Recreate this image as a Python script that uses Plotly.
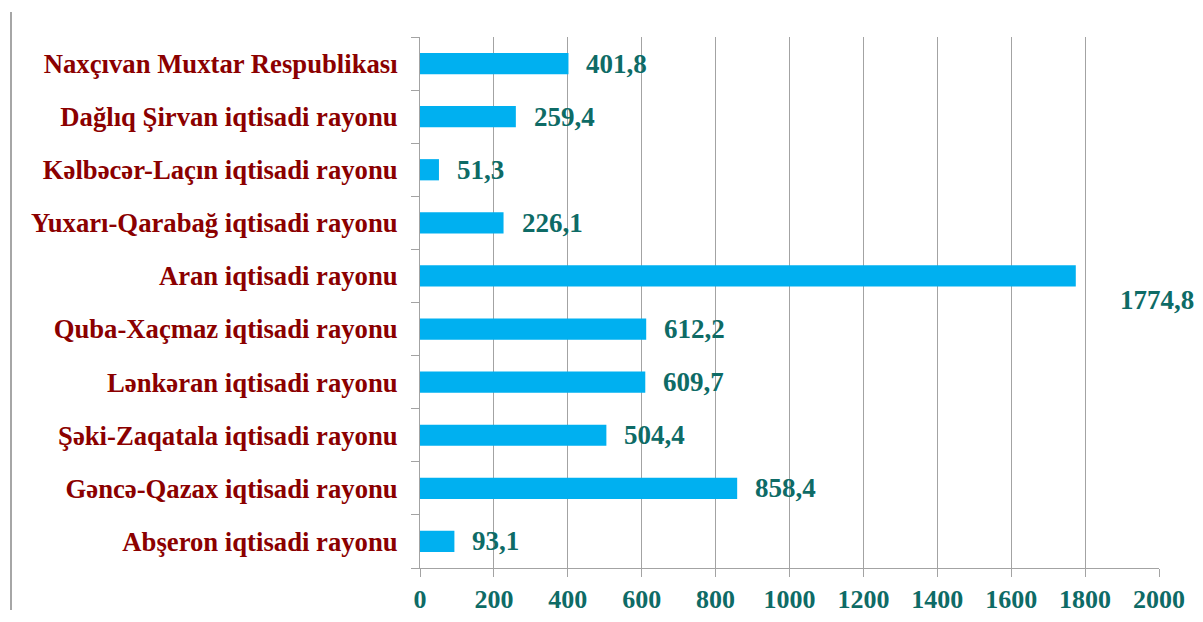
import plotly.graph_objects as go

categories = [
    "Abşeron iqtisadi rayonu",
    "Gəncə-Qazax iqtisadi rayonu",
    "Şəki-Zaqatala iqtisadi rayonu",
    "Lənkəran iqtisadi rayonu",
    "Quba-Xaçmaz iqtisadi rayonu",
    "Aran iqtisadi rayonu",
    "Yuxarı-Qarabağ iqtisadi rayonu",
    "Kəlbəcər-Laçın iqtisadi rayonu",
    "Dağlıq Şirvan iqtisadi rayonu",
    "Naxçıvan Muxtar Respublikası",
]
values = [93.1, 858.4, 504.4, 609.7, 612.2, 1774.8, 226.1, 51.3, 259.4, 401.8]
x_ticks = [0, 200, 400, 600, 800, 1000, 1200, 1400, 1600, 1800, 2000]

FONT = "Liberation Serif"
LABEL_COLOR = "#8B0000"
VALUE_COLOR = "#0E6B66"
GRID = "#A3A3A3"

# page body has an 8px margin, so figure coords = screen coords - 8
L, R, T, B = 412, 52, 29, 62
PW = 1203 - L - R
PH = 622 - T - B

fig = go.Figure()
fig.add_trace(go.Bar(
    x=values, y=categories, orientation="h",
    marker=dict(color="#00B0F0", line=dict(width=0)),
    width=0.4, hoverinfo="x+y",
))

annotations = []
for c, v in zip(categories, values):
    big = v > 1500
    annotations.append(dict(
        x=v, y=c, xref="x", yref="y",
        text=f"{v:.1f}".replace(".", ","),
        showarrow=False, xanchor="left", yanchor="middle",
        xshift=42 if big else 16, yshift=-24 if big else 0,
        font=dict(family=FONT, size=27, color=VALUE_COLOR, weight="bold"),
    ))

fig.update_layout(
    width=1203, height=622,
    margin=dict(l=L, r=R, t=T, b=B),
    paper_bgcolor="white", plot_bgcolor="white",
    showlegend=False, bargap=0.6,
    annotations=annotations,
    xaxis=dict(
        range=[0, 2000], tickvals=x_ticks, ticktext=[str(t) for t in x_ticks],
        showgrid=True, gridcolor=GRID, gridwidth=1,
        showline=True, linecolor=GRID, linewidth=1,
        ticks="outside", ticklen=8, tickcolor=GRID,
        tickfont=dict(family=FONT, size=26, color=VALUE_COLOR, weight="bold"),
        zeroline=False, fixedrange=True,
    ),
    yaxis=dict(
        type="category", categoryorder="array", categoryarray=categories,
        showgrid=False, showline=True, linecolor=GRID, linewidth=1,
        ticks="outside", ticklen=8, tickcolor=GRID, tickson="boundaries",
        ticklabelstandoff=16,
        tickfont=dict(family=FONT, size=26.7, color=LABEL_COLOR, weight="bold"),
        fixedrange=True,
    ),
    shapes=[dict(
        type="line", xref="paper", yref="paper",
        x0=(3 - L) / PW, x1=(3 - L) / PW,
        y0=(PH + T - 4) / PH, y1=(PH + T - 602) / PH,
        line=dict(color="#A6A6A6", width=2),
    )],
)

fig.write_html("out.html")
